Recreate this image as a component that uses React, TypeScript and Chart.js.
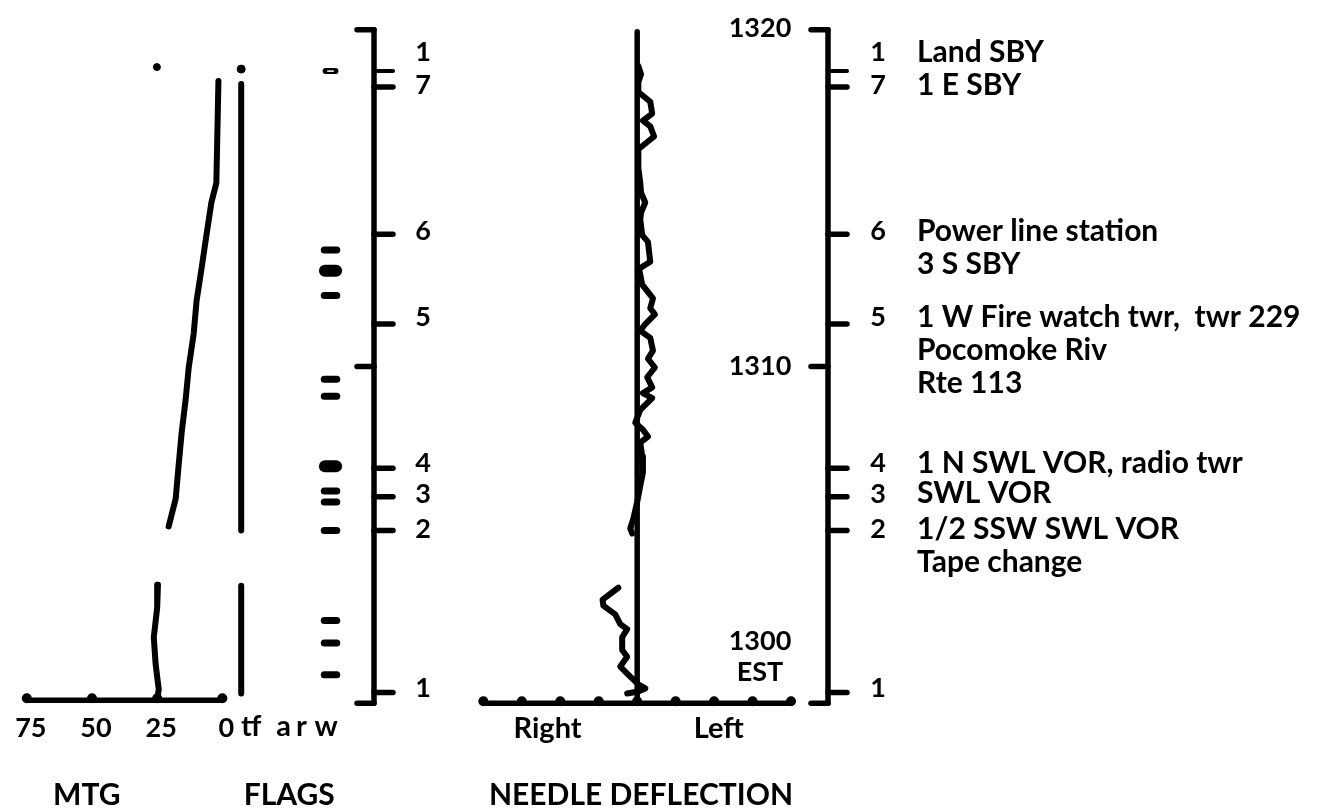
import React, { useEffect, useRef } from 'react';
import { Chart, registerables } from 'chart.js';

Chart.register(...registerables);

const W = 1322;
const H = 811;
const FONT = 'Lato, "Open Sans", sans-serif';

// Time is expressed in minutes after 1300 EST
const TIME_TICKS = [0, 10, 20];
const TIME_TICK_LABELS = ['1300', '1310', '1320'];

// Checkpoints (time of mark on the recorder)
const CHECKPOINT_TIMES = [18.77, 18.3, 13.93, 11.26, 6.98, 6.13, 5.13, 0.32];
const CHECKPOINT_NUMBERS = ['1', '7', '6', '5', '4', '3', '2', '1'];
const CHECKPOINT_NOTES = [
  ['Land SBY'],
  ['1 E SBY'],
  ['Power line station', '3 S SBY'],
  ['1 W Fire watch twr,  twr 229', 'Pocomoke Riv', 'Rte 113'],
  ['1 N SWL VOR, radio twr'],
  ['SWL VOR'],
  ['1/2 SSW SWL VOR', 'Tape change'],
  [],
];

// MTG trace
const MTG_TICKS = [75, 50, 25, 0];
const MTG_TOP_TIME = [18.48, 15.45, 14.87, 13.9, 12.9, 11.94, 10.97, 9.97, 9.0, 8.04, 7.04, 6.07, 5.25];
const MTG_TOP_VALUE = [1.5, 2.3, 4.2, 6.1, 8.0, 9.9, 11.0, 12.9, 14.1, 15.6, 16.8, 17.9, 20.6];
const MTG_BOTTOM_TIME = [3.52, 2.84, 1.96, 1.17, 0.41, 0.12];
const MTG_BOTTOM_VALUE = [24.7, 25.0, 26.3, 25.6, 24.4, 25.0];
const MTG_DOT_TIME = 18.89;
const MTG_DOT_VALUE = 25.1;

// Flags (columns t, f, a, r, w -> 0..4)
const FLAG_LABELS = ['tf', 'a', 'r', 'w'];
const FLAG_T_SEGMENTS = [
  [18.39, 5.13],
  [3.49, 0.29],
];
const FLAG_T_DOT_TIME = 18.83;
const FLAG_W_TIMES = [13.46, 12.11, 9.62, 9.12, 6.3, 5.98, 5.13, 2.46, 1.79, 0.85];
const FLAG_W_WIDE_TIMES = [12.84, 7.04];
const FLAG_W_OPEN_TIME = 18.77;

// Needle deflection (negative = Right, positive = Left)
const NEEDLE_TICKS = [-4, -3, -2, -1, 0, 1, 2, 3, 4];
const NEEDLE_TOP_TIME = [
  18.92, 18.68, 18.45, 18.15, 17.86, 17.51, 17.3, 17.13, 16.83, 16.45, 15.89, 15.45, 15.16, 14.87, 14.57,
  14.37, 13.9, 13.7, 13.11, 12.9, 12.43, 12.02, 11.73, 11.55, 11.26, 11.06, 10.85, 10.47, 10.23, 9.97,
  9.68, 9.38, 9.21, 9.06, 8.71, 8.33, 8.12, 7.92, 7.74, 7.33, 6.86, 6.45, 5.98, 5.48, 5.19, 5.04,
];
const NEEDLE_TOP_VALUE = [
  0.03, 0.1, 0.03, 0.03, 0.34, 0.39, 0.15, 0.34, 0.44, 0.03, 0.03, 0.08, 0.1, 0.21, 0.1,
  0.08, 0.13, 0.28, 0.34, 0.05, 0.13, 0.41, 0.34, 0.46, 0.21, 0.08, 0.34, 0.41, 0.28, 0.46,
  0.26, 0.39, 0.15, 0.39, 0.08, -0.05, 0.15, 0.28, 0.08, 0.13, 0.15, 0.08, 0.0, -0.1, -0.18, -0.13,
];
const NEEDLE_BOTTOM_TIME = [3.43, 3.08, 2.9, 2.64, 2.35, 2.2, 1.96, 1.58, 1.38, 1.09, 0.79, 0.56, 0.44, 0.35, 0.29];
const NEEDLE_BOTTOM_VALUE = [-0.49, -0.9, -0.88, -0.57, -0.44, -0.26, -0.39, -0.39, -0.26, -0.44, -0.18, 0.03, 0.21, 0.03, -0.26];

// ---- layout helpers (pixel anchors -> scale range over the full canvas) ----
function fitX(v0: number, p0: number, v1: number, p1: number) {
  const k = (p1 - p0) / (v1 - v0);
  const min = v0 - p0 / k;
  const max = v0 + (W - p0) / k;
  return k > 0 ? { min, max, reverse: false } : { min: max, max: min, reverse: true };
}
function fitY(v0: number, p0: number, v1: number, p1: number) {
  const k = (p0 - p1) / (v1 - v0);
  return { min: v0 - (H - p0) / k, max: v1 + p1 / k };
}

const zip = (t: number[], v: number[]) => t.map((tt, i) => ({ x: v[i], y: tt }));

const decorations = {
  id: 'decorations',
  beforeDatasetsDraw(chart: any) {
    const ctx = chart.ctx as CanvasRenderingContext2D;
    const y = chart.scales.y;
    const xm = chart.scales.xMtg;
    const xf = chart.scales.xFlag;
    const xn = chart.scales.xNeedle;
    const py = (t: number) => y.getPixelForValue(t);
    const yTop = py(20);
    const yBot = py(0);
    const LEFT_AXIS = 374;
    const RIGHT_AXIS = 828;

    ctx.save();
    ctx.strokeStyle = '#000';
    ctx.fillStyle = '#000';
    ctx.lineCap = 'round';
    ctx.lineJoin = 'round';
    ctx.lineWidth = 5.5;

    const line = (x1: number, y1: number, x2: number, y2: number) => {
      ctx.beginPath();
      ctx.moveTo(x1, y1);
      ctx.lineTo(x2, y2);
      ctx.stroke();
    };

    // vertical time axes
    [LEFT_AXIS, RIGHT_AXIS].forEach((ax) => {
      line(ax, yTop, ax, yBot);
      TIME_TICKS.forEach((t) => line(ax - 17, py(t), ax, py(t)));
      CHECKPOINT_TIMES.forEach((t, i) => {
        ctx.lineWidth = i === 0 ? 4 : 5.5;
        line(ax, py(t), ax + 19, py(t));
        ctx.lineWidth = 5.5;
      });
    });

    // needle zero line
    const x0 = xn.getPixelForValue(0);
    line(x0, py(19.94), x0, yBot);

    // MTG axis
    const mtgY = yBot - 3;
    line(xm.getPixelForValue(75), mtgY, xm.getPixelForValue(0), mtgY);
    MTG_TICKS.forEach((v) => {
      ctx.beginPath();
      ctx.arc(xm.getPixelForValue(v), mtgY - 2, 5, 0, Math.PI * 2);
      ctx.fill();
    });

    // Needle axis
    line(xn.getPixelForValue(-4), yBot, xn.getPixelForValue(4), yBot);
    NEEDLE_TICKS.forEach((v) => {
      ctx.beginPath();
      ctx.arc(xn.getPixelForValue(v), yBot - 2, 5, 0, Math.PI * 2);
      ctx.fill();
    });

    // texts
    ctx.textBaseline = 'middle';
    ctx.textAlign = 'center';
    ctx.font = `bold 27px ${FONT}`;

    MTG_TICKS.forEach((v) => ctx.fillText(String(v), xm.getPixelForValue(v) + 4, yBot + 25));
    const flagLabelPos = [0.45, 1.9, 2.7, 3.8];
    ctx.font = `bold 29px ${FONT}`;
    FLAG_LABELS.forEach((l, i) => ctx.fillText(l, xf.getPixelForValue(flagLabelPos[i]), yBot + 23));
    ctx.fillText('Right', xn.getPixelForValue(-2.33), yBot + 25);
    ctx.fillText('Left', xn.getPixelForValue(2.12), yBot + 25);

    ctx.font = `bold 30px ${FONT}`;
    ctx.fillText('MTG', xm.getPixelForValue(52), 795);
    ctx.fillText('FLAGS', xf.getPixelForValue(2.15), 795);
    ctx.fillText('NEEDLE DEFLECTION', xn.getPixelForValue(0.1), 795);

    // time labels
    ctx.font = `bold 27px ${FONT}`;
    ctx.fillText(TIME_TICK_LABELS[2], RIGHT_AXIS - 68, py(20) - 1);
    ctx.fillText(TIME_TICK_LABELS[1], RIGHT_AXIS - 68, py(10));
    ctx.fillText(TIME_TICK_LABELS[0], RIGHT_AXIS - 68, py(0) - 62);
    ctx.fillText('EST', RIGHT_AXIS - 68, py(0) - 31);

    // checkpoint numbers and notes
    const labelShift = [-19, -2, -3, -7, -5, -3, -1, -4];
    CHECKPOINT_TIMES.forEach((t, i) => {
      const ly = py(t) + labelShift[i];
      ctx.textAlign = 'center';
      ctx.font = `bold 27px ${FONT}`;
      ctx.fillText(CHECKPOINT_NUMBERS[i], LEFT_AXIS + 49, ly);
      ctx.fillText(CHECKPOINT_NUMBERS[i], RIGHT_AXIS + 50, ly);
      ctx.textAlign = 'left';
      ctx.font = `bold 30px ${FONT}`;
      CHECKPOINT_NOTES[i].forEach((n, j) => ctx.fillText(n, RIGHT_AXIS + 89, ly + j * 33));
    });

    ctx.restore();
  },
  afterDatasetsDraw(chart: any) {
    // open (hollow) flag mark at the top of the w column
    const ctx = chart.ctx as CanvasRenderingContext2D;
    const xf = chart.scales.xFlag;
    const py = chart.scales.y.getPixelForValue(FLAG_W_OPEN_TIME);
    ctx.save();
    ctx.strokeStyle = '#fff';
    ctx.lineWidth = 1.5;
    ctx.beginPath();
    ctx.moveTo(xf.getPixelForValue(3.85), py);
    ctx.lineTo(xf.getPixelForValue(4.15), py);
    ctx.stroke();
    ctx.restore();
  },
};

export default function App() {
  const ref = useRef<HTMLCanvasElement | null>(null);

  useEffect(() => {
    if (!ref.current) return;
    const yr = fitY(0, 707, 20, 25);
    const xm = fitX(75, 22, 0, 219);
    const xf = fitX(0, 238, 4, 328);
    const xn = fitX(0, 637, 1, 637 + 38.75);

    const base = {
      borderColor: '#000',
      backgroundColor: '#000',
      borderWidth: 6,
      borderCapStyle: 'round' as const,
      borderJoinStyle: 'round' as const,
      pointRadius: 0,
      tension: 0,
      fill: false,
      yAxisID: 'y',
    };

    const datasets: any[] = [
      { ...base, label: 'MTG top', xAxisID: 'xMtg', data: zip(MTG_TOP_TIME, MTG_TOP_VALUE) },
      { ...base, label: 'MTG bottom', xAxisID: 'xMtg', data: zip(MTG_BOTTOM_TIME, MTG_BOTTOM_VALUE) },
      {
        ...base,
        label: 'MTG dot',
        xAxisID: 'xMtg',
        showLine: false,
        pointRadius: 3.5,
        pointBorderWidth: 1,
        data: [{ x: MTG_DOT_VALUE, y: MTG_DOT_TIME }],
      },
      ...FLAG_T_SEGMENTS.map((s, i) => ({
        ...base,
        label: 'flag t ' + i,
        xAxisID: 'xFlag',
        data: s.map((t) => ({ x: 0, y: t })),
      })),
      {
        ...base,
        label: 'flag t dot',
        xAxisID: 'xFlag',
        showLine: false,
        pointRadius: 4,
        pointBorderWidth: 1,
        data: [{ x: 0, y: FLAG_T_DOT_TIME }],
      },
      ...FLAG_W_TIMES.map((t, i) => ({
        ...base,
        borderWidth: 7,
        label: 'flag w ' + i,
        xAxisID: 'xFlag',
        data: [
          { x: 3.72, y: t },
          { x: 4.28, y: t },
        ],
      })),
      ...FLAG_W_WIDE_TIMES.map((t, i) => ({
        ...base,
        borderWidth: 12,
        label: 'flag w wide ' + i,
        xAxisID: 'xFlag',
        data: [
          { x: 3.75, y: t },
          { x: 4.25, y: t },
        ],
      })),
      {
        ...base,
        borderWidth: 6,
        label: 'flag w open',
        xAxisID: 'xFlag',
        data: [
          { x: 3.78, y: FLAG_W_OPEN_TIME },
          { x: 4.22, y: FLAG_W_OPEN_TIME },
        ],
      },
      { ...base, label: 'Needle top', xAxisID: 'xNeedle', data: zip(NEEDLE_TOP_TIME, NEEDLE_TOP_VALUE) },
      { ...base, label: 'Needle bottom', xAxisID: 'xNeedle', data: zip(NEEDLE_BOTTOM_TIME, NEEDLE_BOTTOM_VALUE) },
    ];

    const chart = new Chart(ref.current, {
      type: 'line',
      data: { datasets },
      options: {
        animation: false,
        responsive: false,
        maintainAspectRatio: false,
        layout: { padding: 0 },
        plugins: { legend: { display: false }, tooltip: { enabled: false }, title: { display: false } },
        scales: {
          y: { type: 'linear', display: false, min: yr.min, max: yr.max },
          xMtg: { type: 'linear', axis: 'x', display: false, min: xm.min, max: xm.max, reverse: xm.reverse },
          xFlag: { type: 'linear', axis: 'x', display: false, min: xf.min, max: xf.max, reverse: xf.reverse },
          xNeedle: { type: 'linear', axis: 'x', display: false, min: xn.min, max: xn.max, reverse: xn.reverse },
        },
      } as any,
      plugins: [decorations],
    });
    return () => chart.destroy();
  }, []);

  return (
    <div style={{ position: 'absolute', left: 0, top: 0, width: W, height: H, background: '#fff' }}>
      <canvas ref={ref} width={W} height={H} style={{ width: W, height: H, display: 'block' }} />
    </div>
  );
}
